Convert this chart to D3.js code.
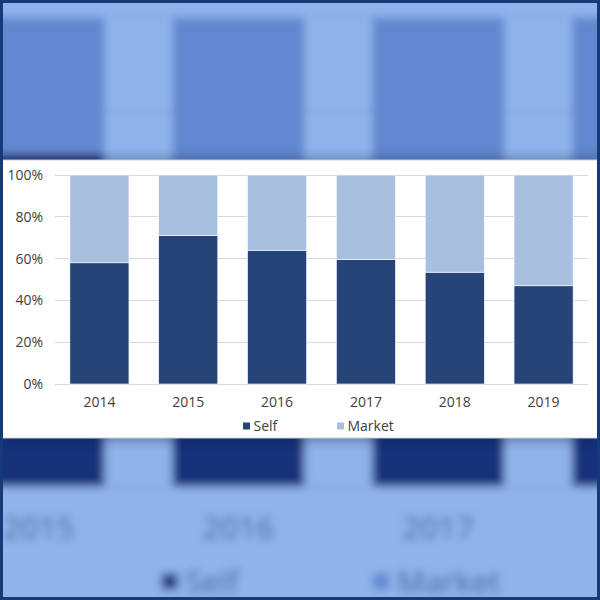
<!DOCTYPE html>
<html>
<head>
<meta charset="utf-8">
<script src="https://cdn.jsdelivr.net/npm/d3@7"></script>
<style>
  html, body { margin: 0; padding: 0; background: #fff; }
  svg { display: block; font-family: "Open Sans", "Noto Sans", sans-serif; }
</style>
</head>
<body>
<div id="vis"></div>
<script>
const W = 600, H = 600;

// data (share of total, %)
const years = ['2014', '2015', '2016', '2017', '2018', '2019'];
const selfShare = [58, 71, 64, 59.5, 53.5, 47];
const marketShare = [42, 29, 36, 40.5, 46.5, 53];
const seriesNames = ['Self', 'Market'];
const yTicks = [0, 20, 40, 60, 80, 100];

// foreground colours and the blue-tinted ones of the blurred backdrop
const FG = { page: '#ffffff', self: '#264478', market: '#a9bfe0', grid: '#d9d9d9', text: '#404040' };
const BG = { page: '#8fb3ea', self: '#16327a', market: '#6287ce', grid: '#7f9fd8', text: '#3d5a92' };

const rows = years.map((y, i) => ({ year: y, Self: selfShare[i], Market: marketShare[i] }));
const stacked = d3.stack().keys(seriesNames)(rows);

const xScale = d3.scaleBand()
    .domain(years)
    .range([55, 588])
    .paddingInner(0.335)
    .paddingOuter(0.1675);

const yScale = d3.scaleLinear()
    .domain([0, 100])
    .range([384, 175]);

const svg = d3.select('#vis').append('svg')
    .attr('width', W)
    .attr('height', H);

const defs = svg.append('defs');
defs.append('filter').attr('id', 'blur')
    .attr('x', '-20%').attr('y', '-20%').attr('width', '140%').attr('height', '140%')
  .append('feGaussianBlur').attr('stdDeviation', 4);
defs.append('filter').attr('id', 'shadow')
    .attr('x', '-10%').attr('y', '-30%').attr('width', '120%').attr('height', '160%')
  .append('feGaussianBlur').attr('stdDeviation', 6);

// draws the whole chart into g with a given palette
function drawChart(g, pal) {
    g.append('g').attr('class', 'grid')
      .selectAll('line')
      .data(yTicks)
      .join('line')
        .attr('x1', xScale.range()[0])
        .attr('x2', xScale.range()[1])
        .attr('y1', d => yScale(d))
        .attr('y2', d => yScale(d))
        .attr('stroke', pal.grid)
        .attr('stroke-width', 1)
        .attr('shape-rendering', 'crispEdges');

    g.append('g').attr('class', 'bars')
      .selectAll('g')
      .data(stacked)
      .join('g')
        .attr('fill', d => d.key === 'Self' ? pal.self : pal.market)
      .selectAll('rect')
      .data(d => d)
      .join('rect')
        .attr('x', d => xScale(d.data.year))
        .attr('width', xScale.bandwidth())
        .attr('y', d => yScale(d[1]))
        .attr('height', d => yScale(d[0]) - yScale(d[1]))
        .attr('stroke', pal.page)
        .attr('stroke-width', 0.6);

    const yAxis = g.append('g')
        .attr('transform', `translate(${xScale.range()[0]},0)`)
        .call(d3.axisLeft(yScale).tickValues(yTicks).tickSize(0).tickPadding(12).tickFormat(d => d + '%'));
    const xAxis = g.append('g')
        .attr('transform', `translate(0,${yScale(0)})`)
        .call(d3.axisBottom(xScale).tickSize(0).tickPadding(13));

    [yAxis, xAxis].forEach(ax => {
        ax.select('.domain').remove();
        ax.selectAll('text')
            .attr('fill', pal.text)
            .style('font-size', '14px')
            .style('font-family', '"Open Sans", "Noto Sans", sans-serif');
    });

    const legend = g.append('g').attr('class', 'legend')
      .selectAll('g')
      .data(seriesNames)
      .join('g')
        .attr('transform', (d, i) => `translate(${243 + i * 94},426)`);
    legend.append('rect')
        .attr('x', 0).attr('y', -3.5)
        .attr('width', 7).attr('height', 7)
        .attr('fill', d => d === 'Self' ? pal.self : pal.market);
    legend.append('text')
        .attr('x', 10.5).attr('y', 5)
        .attr('fill', pal.text)
        .style('font-size', '14px')
        .text(d => d);
}

// backdrop: an enlarged, blurred, blue-tinted copy of the chart
const bgOuter = svg.append('g').attr('filter', 'url(#blur)');
bgOuter.append('rect')
    .attr('x', -20).attr('y', -20)
    .attr('width', W + 40).attr('height', H + 40)
    .attr('fill', BG.page);
const bgInner = bgOuter.append('g')
    .attr('transform', 'translate(-385,-377) scale(2.25)');
drawChart(bgInner, BG);

// white panel with a soft shadow
svg.append('rect')
    .attr('x', 0).attr('y', 158)
    .attr('width', W).attr('height', 283)
    .attr('fill', '#0b1d4a')
    .attr('opacity', 0.35)
    .attr('filter', 'url(#shadow)');
svg.append('rect')
    .attr('x', 0).attr('y', 160)
    .attr('width', W).attr('height', 278)
    .attr('fill', FG.page)
    .attr('stroke', '#c8ced8')
    .attr('stroke-width', 1);

drawChart(svg.append('g'), FG);

// frame
svg.append('rect')
    .attr('x', 1.5).attr('y', 1.5)
    .attr('width', W - 3).attr('height', H - 3)
    .attr('fill', 'none')
    .attr('stroke', '#16397a')
    .attr('stroke-width', 3);
</script>
</body>
</html>
